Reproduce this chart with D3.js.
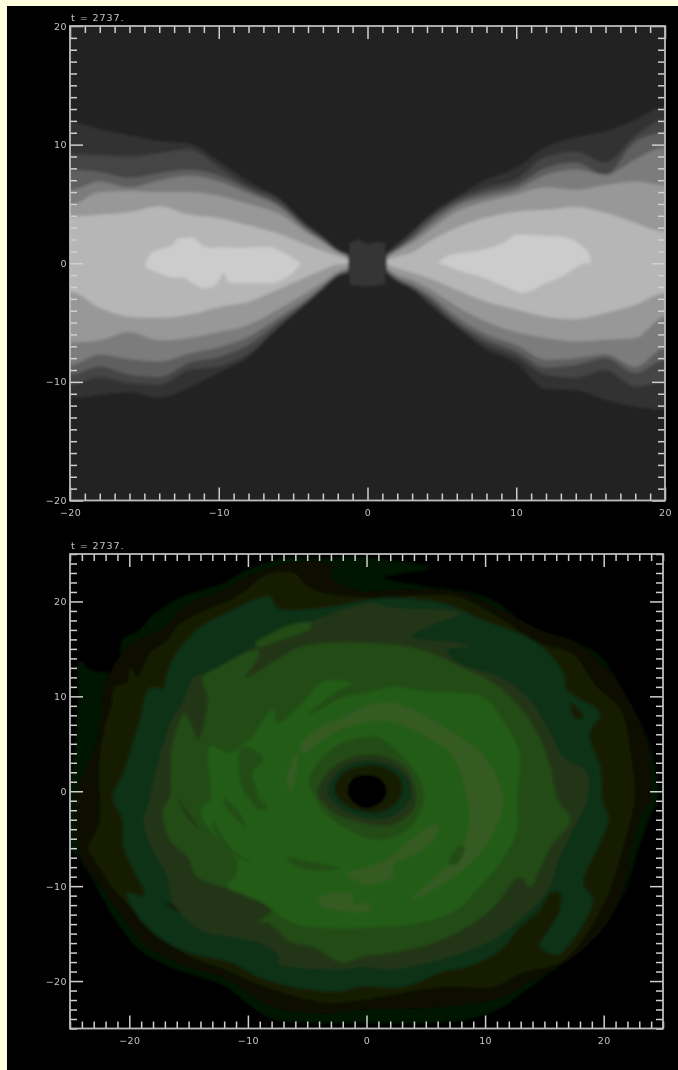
<!DOCTYPE html>
<html>
<head>
<meta charset="utf-8">
<script src="https://cdn.jsdelivr.net/npm/d3@7"></script>
<style>
  html, body { margin: 0; padding: 0; background: #ffffe0; }
  svg { display: block; }
  text { font-family: "DejaVu Sans", sans-serif; font-size: 9.5px; fill: #c4c4c4; letter-spacing: 0.4px; }
</style>
</head>
<body>
<script>
const timeLabel = 't = 2737.';

/* top panel: disc height bounds per density level, read at these x values */
const leftX = [-20, -18, -16, -14, -12, -10, -8, -6, -4, -3, -2, -1.3];
const leftUpper = [
  [11.9, 11.3, 10.8, 10.3, 10.1, 8.6, 6.9, 5.5, 3.2, 2.3, 1.2, 0.8],
  [9.2, 9.1, 9.0, 9.3, 9.6, 8.1, 6.5, 5.4, 3.1, 2.2, 1.1, 0.75],
  [7.9, 7.7, 7.2, 7.6, 7.9, 7.4, 6.2, 5.0, 2.9, 2.0, 1.05, 0.7],
  [6.2, 6.9, 6.4, 7.0, 7.4, 6.9, 5.9, 4.8, 2.7, 1.9, 1.0, 0.6],
  [4.9, 6.0, 6.1, 6.0, 6.0, 5.7, 5.0, 4.2, 2.5, 1.7, 0.9, 0.5],
  [3.9, 4.1, 4.3, 4.8, 4.1, 3.8, 3.2, 2.5, 1.5, 1.05, 0.6, 0.3]
];
const leftLower = [
  [-11.35, -11.1, -10.9, -11.35, -10.5, -9.2, -7.9, -5.4, -3.3, -2.2, -1.1, -0.9],
  [-10.25, -9.6, -10.1, -10.25, -9.0, -8.7, -7.6, -5.4, -3.25, -2.15, -1.05, -0.8],
  [-9.4, -8.7, -9.4, -9.6, -8.4, -7.9, -6.9, -5.0, -3.15, -2.05, -1.0, -0.7],
  [-8.6, -7.7, -8.1, -8.3, -7.6, -7.1, -6.2, -4.6, -2.9, -1.9, -0.9, -0.6],
  [-6.7, -6.5, -5.8, -6.5, -6.3, -5.8, -5.2, -3.9, -2.4, -1.6, -0.7, -0.4],
  [-2.4, -3.75, -4.5, -4.6, -4.35, -3.7, -3.25, -2.2, -1.1, -0.55, -0.1, -0.05]
];
const rightX = [1.3, 2, 3, 4, 6, 8, 10, 12, 14, 16, 18, 20];
const rightUpper = [
  [0.9, 1.7, 2.65, 3.9, 5.6, 7.05, 8.05, 9.8, 10.6, 11.1, 12.1, 13.2],
  [0.8, 1.4, 2.6, 3.7, 5.4, 6.4, 7.05, 9.0, 9.4, 8.5, 10.7, 12.1],
  [0.7, 1.3, 2.2, 3.4, 5.1, 6.0, 6.6, 8.05, 8.5, 7.45, 10.25, 11.0],
  [0.6, 1.15, 2.0, 3.0, 4.8, 5.6, 6.2, 7.45, 7.9, 7.45, 8.75, 9.75],
  [0.5, 1.0, 1.7, 2.6, 4.35, 5.2, 5.8, 6.4, 6.2, 6.6, 6.9, 6.6],
  [0.25, 0.55, 0.9, 1.7, 3.0, 3.85, 4.35, 4.5, 4.75, 4.25, 3.4, 2.65]
];
const rightLower = [
  [-0.9, -1.55, -2.25, -3.35, -5.4, -7.3, -8.4, -10.6, -10.7, -11.5, -12.1, -12.35],
  [-0.8, -1.5, -2.05, -3.1, -5.2, -6.9, -7.9, -9.4, -9.65, -9.0, -10.4, -10.0],
  [-0.7, -1.4, -2.0, -2.8, -4.95, -6.45, -7.45, -8.8, -8.55, -8.0, -9.25, -8.15],
  [-0.6, -1.2, -1.8, -2.5, -4.5, -6.0, -6.9, -8.15, -8.0, -7.7, -8.75, -7.15],
  [-0.4, -1.0, -1.4, -2.05, -3.65, -4.95, -5.8, -6.3, -6.6, -6.45, -6.3, -4.5],
  [-0.1, -0.4, -0.8, -1.2, -2.25, -3.25, -3.9, -4.5, -4.7, -4.2, -3.5, -2.5]
];
/* the brightest level: two blobs with their own x values */
const peakLeft = [[-15, -0.3, -0.3], [-14.5, 0.9, -0.6], [-13, 1.6, -1.2], [-12.8, 2.1, -1.2], [-12.4, 2.1, -1.2], [-11.9, 2.2, -1.6], [-10.9, 1.4, -2.1], [-10.2, 1.3, -1.8], [-9.6, 1.4, -0.8], [-9.4, 1.3, -1.6], [-8.7, 1.3, -1.7], [-6.8, 1.4, -1.7], [-5.1, 0.5, -0.9], [-4.5, 0, 0]];
const peakRight = [[4.7, 0, 0], [5.55, 0.7, -0.3], [6, 0.8, -0.55], [7.8, 1.15, -1.2], [9.1, 1.7, -1.9], [10.05, 2.4, -2.4], [10.45, 2.4, -2.5], [12.05, 2.3, -1.65], [12.95, 2.25, -1.2], [14.8, 1.0, 0], [15, 0.3, 0]];
const centerBox = [[-1.2, 1.7], [-0.6, 2.0], [0, 1.6], [0.6, 1.8], [1.2, 1.7], [1.2, -1.8], [0.5, -1.9], [-0.5, -1.9], [-1.2, -1.8]];

/* bottom panel: contours of the disc seen from above, outermost first */
const contours = [
  [[-24.2, 13.8], [-23.3, 12.8], [-21.0, 12.8], [-20.6, 15.9], [-19.1, 17.0], [-18.0, 18.6], [-15.5, 20.5], [-12.1, 21.9], [-10.1, 23.3], [-6.7, 24.6], [-3.3, 24.6], [0.3, 24.6], [5.4, 23.5], [1.4, 22.5], [4.5, 21.7], [10.2, 20.4], [14.0, 17.3], [17.4, 15.9], [19.7, 14.2], [21.6, 10.7], [23.3, 6.8], [24.2, 3.6], [24.5, -0.9], [23.9, -2.7], [22.8, -6.5], [21.6, -11.1], [19.1, -14.9], [16.9, -17.8], [13.8, -20.6], [11.5, -22.7], [8.7, -24.0], [5.9, -24.4], [-0.5, -24.4], [-7.9, -24.0], [-10.1, -22.3], [-11.8, -20.6], [-16.6, -18.5], [-19.1, -16.7], [-21.0, -13.9], [-22.5, -10.7], [-24.2, -7.2], [-25, -5.9], [-25, 0.1], [-24.5, 5.4], [-24.3, 9.6]],
  [[-22.7, 5.4], [-22.3, 8.9], [-21.9, 11.7], [-20.6, 14.6], [-19.7, 15.6], [-16.8, 17.5], [-15.5, 19.4], [-12.4, 21.0], [-10.1, 22.6], [-6.2, 24.1], [-2.8, 23.8], [-3.1, 22.6], [-1.4, 21.4], [-0.5, 21.0], [2.2, 21.2], [7.6, 21.0], [11.3, 19.1], [15.2, 16.7], [17.7, 15.6], [20.5, 12.5], [22.2, 9.3], [23.7, 4.7], [23.9, -0.9], [23.3, -2.0], [22.5, -5.1], [21.6, -10.4], [20.3, -13.9], [17.4, -17.5], [13.5, -20.2], [11.5, -21.7], [6.5, -22.7], [-0.5, -23.0], [-3.3, -23.4], [-7.9, -22.7], [-10.7, -20.6], [-12.1, -19.6], [-16.0, -18.1], [-18.8, -16.0], [-20.5, -13.2], [-22.2, -10.4], [-24.2, -6.5], [-24.6, -3.3], [-24.5, 0.1], [-23.7, 2.2]],
  [[-22.5, 3.3], [-21.9, 7.5], [-21.5, 8.9], [-21.2, 11.0], [-20.2, 11.4], [-19.9, 13.1], [-19.3, 12.0], [-18.3, 14.4], [-16.8, 15.9], [-16.0, 17.3], [-13.8, 18.9], [-10.9, 20.5], [-8.4, 22.8], [-6.2, 23.0], [-4.5, 21.2], [0.3, 20.4], [2.2, 20.5], [7.6, 20.5], [10.7, 18.6], [14.6, 15.6], [17.4, 14.4], [19.4, 11.0], [21.4, 8.6], [22.2, 4.7], [22.6, -0.9], [22.2, -3.3], [21.4, -6.9], [20.5, -10.4], [19.1, -13.9], [16.6, -17.8], [12.9, -19.2], [10.7, -20.6], [6.5, -20.6], [-0.5, -22.0], [-3.3, -22.3], [-8.4, -20.6], [-11.8, -18.8], [-15.1, -17.2], [-17.2, -14.6], [-18.8, -13.2], [-20.8, -11.1], [-23.1, -6.9], [-23.5, -6.2], [-22.5, -3.3], [-22.5, 0.1]],
  [[-21.4, -0.6], [-20.5, 1.9], [-19.8, 4.7], [-19.1, 7.5], [-18.4, 10.7], [-17.7, 10.9], [-17.2, 10.7], [-16.8, 12.4], [-16.0, 14.6], [-14.0, 17.3], [-12.1, 18.6], [-9.0, 20.4], [-8.1, 20.5], [-7.5, 19.3], [-3.7, 19.3], [0.3, 20.2], [2.0, 20.4], [6.5, 19.8], [9.3, 18.3], [14.4, 15.6], [16.6, 12.5], [16.9, 10.7], [19.7, 8.2], [18.8, 6.1], [19.7, 2.6], [19.9, -0.9], [20.4, -3.0], [19.5, -5.9], [18.3, -9.7], [19.1, -11.4], [18.3, -13.9], [16.9, -16.4], [16.1, -17.2], [14.6, -16.4], [15.2, -14.9], [16.3, -12.5], [16.3, -10.7], [15.5, -10.7], [14.6, -12.5], [12.9, -14.3], [11.3, -16.7], [8.5, -18.5], [6.5, -19.0], [3.1, -20.6], [-0.5, -20.6], [-2.5, -21.1], [-6.2, -20.6], [-9.0, -19.6], [-11.3, -18.1], [-15.7, -16.7], [-18.8, -13.9], [-20.2, -10.7], [-18.7, -11.0], [-19.5, -8.6], [-20.5, -5.9], [-20.6, -3.0]],
  [[-18.3, -0.9], [-17.8, 1.9], [-17.2, 4.7], [-16.3, 7.8], [-15.5, 9.3], [-14.6, 12.0], [-13.4, 12.5], [-10.4, 14.6], [-8.4, 15.9], [-6.2, 17.3], [-4.5, 18.0], [0.3, 19.8], [2.0, 19.4], [7.9, 18.8], [5.9, 17.7], [3.8, 16.3], [7.9, 15.6], [8.7, 15.2], [6.8, 14.9], [7.6, 13.6], [11.3, 12.0], [13.8, 9.6], [15.5, 6.1], [16.6, 3.6], [18.6, 1.9], [18.6, -0.9], [17.4, -4.1], [16.3, -6.9], [15.3, -10.4], [13.2, -13.2], [11.0, -15.4], [7.9, -17.1], [5.1, -18.1], [2.2, -18.8], [-0.5, -18.5], [-2.0, -18.8], [-7.5, -18.1], [-7.3, -17.5], [-9.0, -16.0], [-11.3, -15.4], [-14.0, -14.6], [-16.3, -11.8], [-16.8, -9.0], [-18.0, -6.2], [-18.8, -3.3]],
  [[-16.6, -0.6], [-16.4, 4.7], [-15.3, 8.2], [-14.7, 6.8], [-14.2, 5.4], [-13.4, 9.6], [-13.8, 12.0], [-12.4, 13.1], [-9.2, 14.9], [-9.0, 14.4], [-10.2, 12.0], [-7.9, 13.6], [-5.6, 15.2], [-2.0, 15.7], [0.3, 15.6], [2.8, 15.4], [5.4, 14.6], [7.3, 13.5], [10.7, 11.4], [12.9, 8.9], [14.6, 5.7], [15.5, 2.6], [16.1, -0.9], [17.2, -3.0], [15.5, -5.9], [14.6, -8.3], [13.8, -10.1], [12.9, -9.0], [11.0, -11.8], [9.0, -13.9], [5.6, -16.0], [2.2, -17.0], [-0.5, -17.5], [-2.0, -18.1], [-4.5, -16.4], [-6.2, -16.0], [-8.4, -13.8], [-9.2, -13.9], [-7.9, -12.2], [-11.8, -10.2], [-14.3, -9.0], [-15.1, -6.9], [-16.6, -5.1], [-17.2, -2.0]],
  [[-13.2, -0.9], [-13.2, 4.7], [-11.5, 4.0], [-10.5, 4.9], [-9.7, 5.7], [-7.9, 8.6], [-7.5, 7.2], [-5.4, 9.3], [-3.7, 11.5], [-1.2, 11.4], [-2.5, 10.5], [-5.0, 8.0], [-2.0, 9.9], [0.3, 10.5], [2.2, 11.0], [5.1, 10.5], [9.8, 9.9], [11.5, 7.5], [12.9, 4.0], [12.7, -0.9], [12.7, -4.1], [11.3, -7.5], [9.3, -10.4], [7.6, -12.5], [4.3, -13.9], [-0.5, -14.4], [-3.3, -14.4], [-6.2, -13.9], [-8.7, -11.8], [-11.8, -9.9], [-11.1, -9.0], [-10.9, -7.4], [-13.4, -3.8], [-14.0, -2.0]]
];
/* lighter patches inside the bright ring */
const lightPatches = [
  [[-5.6, 4.7], [-4.2, 6.5], [-2.0, 7.8], [0.3, 9.1], [2.2, 9.3], [5.1, 7.8], [7.9, 5.7], [10.2, 3.3], [11.5, -0.9], [10.7, -4.4], [9.3, -6.9], [7.0, -9.3], [3.7, -11.5], [6.2, -8.6], [7.9, -6.2], [8.7, -3.0], [8.5, -0.9], [7.3, 3.6], [5.1, 5.7], [2.2, 7.3], [0.3, 7.3], [-2.2, 6.5], [-3.9, 5.1], [-5.4, 4.0]],
  [[-0.5, -8.5], [1.7, -7.2], [3.7, -5.1], [5.9, -3.5], [6.0, -4.3], [4.8, -6.2], [2.2, -7.8], [2.2, -9.0], [-0.5, -9.8]],
  [[-4.2, -11.5], [-2.8, -10.7], [-1.1, -10.9], [-1.1, -11.8], [0.3, -11.8], [0.3, -12.5], [-3.3, -12.3]],
  [[-1.6, -8.6], [0.3, -8.3], [0.3, -9.3], [-1.4, -9.1]],
  [[-6.7, 1.2], [-5.9, 4.0], [-5.8, 3.3], [-6.4, -0.2]]
];
/* darker streaks, each with the contour level whose shade it has */
const streakLevels = [5, 5, 5, 5, 5, 5, 4, 2, 2];
const streaks = [
  [[-13.0, -3.0], [-11.3, -6.2], [-9.7, -7.4], [-10.9, -6.9], [-12.6, -4.8]],
  [[-12.1, -0.6], [-10.9, -2.0], [-10.1, -3.9], [-10.9, -3.0], [-11.8, -1.7]],
  [[-6.7, -7.0], [-5.0, -7.4], [-2.2, -8.1], [-4.5, -8.3], [-6.4, -7.5]],
  [[-10.1, 0.1], [-8.4, -1.7], [-9.0, -2.0], [-9.8, -0.9]],
  [[-10.5, 4.7], [-10.8, 2.5], [-10.1, -0.5], [-9.2, -0.5], [-9.6, 2.0], [-8.7, 3.5]],
  [[6.9, -7.6], [7.9, -5.7], [8.3, -5.9], [7.5, -7.8]],
  [[-16.0, -0.6], [-14.6, -3.0], [-14.0, -4.1], [-15.1, -2.7]],
  [[-17.2, -11.8], [-15.7, -12.7], [-16.3, -12.0]],
  [[17.2, 9.3], [18.3, 7.9], [17.6, 7.6]]
];
/* green patch lying in the brown band, upper left */
const upperPatch = [[-9.4, 15.6], [-8.5, 16.3], [-6.2, 17.6], [-4.7, 17.7], [-4.7, 17.2], [-7.3, 15.9], [-9.0, 15.2]];
/* rings round the central hole */
const holeRings = [
  [[-4.8, 1.2], [-3.9, 3.3], [-2.0, 5.1], [0.9, 5.7], [2.8, 4.0], [4.5, 1.2], [4.8, -1.2], [3.4, -4.1], [0.9, -5.1], [-1.4, -4.1], [-3.7, -2.0]],
  [[-4.1, -0.2], [-3.1, 2.2], [-1.4, 3.5], [0.9, 3.8], [3.1, 2.6], [4.1, 0.1], [3.9, -2.0], [2.0, -3.6], [-0.5, -3.3], [-2.8, -2.2]],
  [[-3.3, 0.1], [-2.5, 1.9], [-1.1, 3.0], [0.9, 3.1], [2.8, 2.2], [3.7, 0.5], [3.5, -1.2], [2.0, -2.7], [-0.3, -2.8], [-2.2, -1.8]],
  [[-2.7, 0.1], [-2.0, 1.9], [-0.5, 2.6], [1.1, 2.7], [2.6, 1.7], [3.0, 0.3], [2.6, -1.1], [1.1, -2.2], [-0.8, -2.0], [-2.1, -1.1]],
  [[-1.6, 0.1], [-1.1, 1.4], [0, 1.7], [1.1, 1.4], [1.7, 0.1], [1.3, -1.1], [0, -1.8], [-1.1, -1.2]]
];

const grayShades = ['#313131', '#454545', '#5e5e5e', '#7c7c7c', '#989898', '#b6b6b6'];
const peakShade = '#cccccc';
const greenShades = ['#001200', '#0f0c00', '#131f04', '#113013', '#243614', '#244c14', '#235c14'];
const lightShade = '#365a24';
const ringShades = ['#244c14', '#243614', '#113013', '#131f04', '#000000'];

const tickMajor = 10;

const svg = d3.select('body').append('svg')
  .attr('width', 678)
  .attr('height', 1070);

svg.append('rect')
  .attr('x', 7).attr('y', 6)
  .attr('width', 671).attr('height', 1064)
  .attr('fill', '#000');

const defs = svg.append('defs');
defs.append('filter').attr('id', 'soft')
  .attr('x', '-5%').attr('y', '-5%').attr('width', '110%').attr('height', '110%')
  .append('feGaussianBlur').attr('stdDeviation', 1.4);
defs.append('filter').attr('id', 'softline')
  .attr('filterUnits', 'userSpaceOnUse')
  .attr('x', 0).attr('y', 0).attr('width', 678).attr('height', 1070)
  .append('feGaussianBlur').attr('stdDeviation', 0.7);

/* frame, ticks on all four sides and labels, same for both panels */
function drawAxes(panel, x, y, xDomain, yDomain) {
  const box = { left: x.range()[0], right: x.range()[1], top: y.range()[1], bottom: y.range()[0] };
  const g = panel.append('g').attr('filter', 'url(#softline)');

  const minorX = d3.range(xDomain[0], xDomain[1] + 1).filter(d => d % tickMajor !== 0);
  const minorY = d3.range(yDomain[0], yDomain[1] + 1).filter(d => d % tickMajor !== 0);
  const majorX = d3.range(xDomain[0], xDomain[1] + 1).filter(d => d % tickMajor === 0);
  const majorY = d3.range(yDomain[0], yDomain[1] + 1).filter(d => d % tickMajor === 0);

  const sides = [
    { make: d3.axisBottom, scale: x, at: `translate(0,${box.bottom})`, labels: true, minor: minorX, major: majorX, pad: 9 },
    { make: d3.axisTop, scale: x, at: `translate(0,${box.top})`, labels: false, minor: minorX, major: majorX, pad: 9 },
    { make: d3.axisLeft, scale: y, at: `translate(${box.left},0)`, labels: true, minor: minorY, major: majorY, pad: 3 },
    { make: d3.axisRight, scale: y, at: `translate(${box.right},0)`, labels: false, minor: minorY, major: majorY, pad: 3 }
  ];

  sides.forEach(side => {
    g.append('g').attr('transform', side.at)
      .call(side.make(side.scale).tickValues(side.minor).tickSizeInner(-7).tickSizeOuter(0).tickFormat(''));
    g.append('g').attr('transform', side.at)
      .call(side.make(side.scale).tickValues(side.major).tickSizeInner(-13).tickSizeOuter(0).tickPadding(side.pad)
        .tickFormat(side.labels ? d3.format('d') : ''));
  });

  g.selectAll('.domain').remove();
  g.selectAll('.tick line').attr('stroke', '#d0d0d0').attr('stroke-width', 1.5);

  g.append('rect')
    .attr('x', box.left).attr('y', box.top)
    .attr('width', box.right - box.left).attr('height', box.bottom - box.top)
    .attr('fill', 'none')
    .attr('stroke', '#bcbcbc')
    .attr('stroke-width', 1.8);

  g.append('text')
    .attr('x', box.left + 1)
    .attr('y', box.top - 5)
    .style('letter-spacing', '0.95px')
    .text(timeLabel);
}

function clipFor(id, x, y) {
  defs.append('clipPath').attr('id', id)
    .append('rect')
    .attr('x', x.range()[0]).attr('y', y.range()[1])
    .attr('width', x.range()[1] - x.range()[0])
    .attr('height', y.range()[0] - y.range()[1]);
}

/* ---- top panel ---- */
const topX = d3.scaleLinear().domain([-20, 20]).range([70, 665]);
const topY = d3.scaleLinear().domain([-20, 20]).range([500.5, 26]);
clipFor('clip-top', topX, topY);

const topPanel = svg.append('g');
const topField = topPanel.append('g')
  .attr('clip-path', 'url(#clip-top)')
  .append('g')
  .attr('filter', 'url(#soft)');

topField.append('rect')
  .attr('x', topX(-21)).attr('y', topY(21))
  .attr('width', topX(21) - topX(-21))
  .attr('height', topY(-21) - topY(21))
  .attr('fill', '#222222');

const wedge = d3.area()
  .x(d => topX(d[0]))
  .y0(d => topY(d[2]))
  .y1(d => topY(d[1]))
  .curve(d3.curveMonotoneX);

function wingRows(xs, upper, lower) {
  return xs.map((x, i) => [x, upper[i], lower[i]]);
}

/* edge columns are repeated past the frame so the blur does not fade them */
function extendWing(rows, side) {
  const edge = side < 0 ? rows[0] : rows[rows.length - 1];
  const extra = [side * 21, edge[1], edge[2]];
  return side < 0 ? [extra, ...rows] : [...rows, extra];
}

grayShades.forEach((shade, i) => {
  [extendWing(wingRows(leftX, leftUpper[i], leftLower[i]), -1),
   extendWing(wingRows(rightX, rightUpper[i], rightLower[i]), 1)].forEach(rows => {
    topField.append('path').attr('d', wedge(rows)).attr('fill', shade);
  });
});

[peakLeft, peakRight].forEach(rows => {
  topField.append('path').attr('d', wedge(rows)).attr('fill', peakShade);
});

const topOutline = d3.line()
  .x(d => topX(d[0]))
  .y(d => topY(d[1]))
  .curve(d3.curveLinearClosed);
topField.append('path').attr('d', topOutline(centerBox)).attr('fill', '#363636');

drawAxes(topPanel, topX, topY, [-20, 20], [-20, 20]);

/* ---- bottom panel ---- */
const botX = d3.scaleLinear().domain([-25, 25]).range([70, 663]);
const botY = d3.scaleLinear().domain([-25, 25]).range([1028.5, 554]);
clipFor('clip-bot', botX, botY);

const botPanel = svg.append('g');
const botField = botPanel.append('g')
  .attr('clip-path', 'url(#clip-bot)')
  .append('g')
  .attr('filter', 'url(#soft)');

const contourLine = d3.line()
  .x(d => botX(d[0]))
  .y(d => botY(d[1]))
  .curve(d3.curveCatmullRomClosed.alpha(0.5));

botField.selectAll('path.level')
  .data(contours)
  .enter().append('path')
  .attr('class', 'level')
  .attr('d', d => contourLine(d))
  .attr('fill', (d, i) => greenShades[i]);

botField.append('path')
  .attr('d', contourLine(upperPatch))
  .attr('fill', greenShades[5]);

botField.selectAll('path.light')
  .data(lightPatches)
  .enter().append('path')
  .attr('class', 'light')
  .attr('d', d => contourLine(d))
  .attr('fill', lightShade);

botField.selectAll('path.streak')
  .data(streaks)
  .enter().append('path')
  .attr('class', 'streak')
  .attr('d', d => contourLine(d))
  .attr('fill', (d, i) => greenShades[streakLevels[i]]);

botField.selectAll('path.ring')
  .data(holeRings)
  .enter().append('path')
  .attr('class', 'ring')
  .attr('d', d => contourLine(d))
  .attr('fill', (d, i) => ringShades[i]);

drawAxes(botPanel, botX, botY, [-25, 25], [-25, 25]);
</script>
</body>
</html>
